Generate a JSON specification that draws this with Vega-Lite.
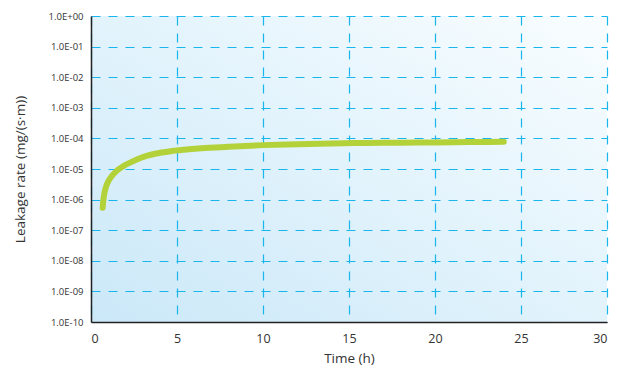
{
  "$schema": "https://vega.github.io/schema/vega-lite/v6.json",
  "width": 516,
  "height": 306,
  "autosize": "none",
  "padding": {"left": 91, "top": 16, "right": 20, "bottom": 47},
  "background": "white",
  "config": {
    "font": "Open Sans",
    "view": {
      "stroke": null,
      "fill": {
        "gradient": "linear",
        "x1": 0, "y1": 1, "x2": 1, "y2": 0,
        "stops": [
          {"offset": 0, "color": "#cbe8f8"},
          {"offset": 0.5, "color": "#e2f3fc"},
          {"offset": 1, "color": "#f9fdff"}
        ]
      }
    },
    "axis": {
      "gridColor": "#19b6ee",
      "gridDash": [9, 8],
      "gridWidth": 1.2,
      "gridOpacity": 1,
      "domainColor": "#222222",
      "domainWidth": 1.5,
      "ticks": false,
      "labelColor": "#333333",
      "titleColor": "#333333",
      "titleFontWeight": "normal",
      "titleFontSize": 13.5,
      "labelFont": "Open Sans",
      "titleFont": "Open Sans"
    }
  },
  "data": {
    "values": [
      {"t": 0.678, "rate": 5.44e-7},
      {"t": 0.717, "rate": 9.48e-7},
      {"t": 0.775, "rate": 1.57e-6},
      {"t": 0.872, "rate": 2.59e-6},
      {"t": 1.008, "rate": 3.98e-6},
      {"t": 1.202, "rate": 5.81e-6},
      {"t": 1.493, "rate": 8.69e-6},
      {"t": 1.88, "rate": 1.24e-5},
      {"t": 2.365, "rate": 1.71e-5},
      {"t": 2.946, "rate": 2.38e-5},
      {"t": 3.721, "rate": 3.14e-5},
      {"t": 4.69, "rate": 3.85e-5},
      {"t": 5.853, "rate": 4.47e-5},
      {"t": 6.628, "rate": 4.83e-5},
      {"t": 8, "rate": 5.37e-5},
      {"t": 10, "rate": 6.03e-5},
      {"t": 12, "rate": 6.46e-5},
      {"t": 14, "rate": 6.84e-5},
      {"t": 16, "rate": 7.08e-5},
      {"t": 18, "rate": 7.24e-5},
      {"t": 20, "rate": 7.41e-5},
      {"t": 22, "rate": 7.59e-5},
      {"t": 24, "rate": 7.76e-5}
    ]
  },
  "mark": {"type": "line", "color": "#b3d23a", "strokeWidth": 6, "strokeCap": "round", "strokeJoin": "round", "interpolate": "monotone"},
  "encoding": {
    "x": {
      "field": "t",
      "type": "quantitative",
      "scale": {"domain": [0, 30], "nice": false},
      "axis": {
        "title": "Time (h)",
        "values": [0, 5, 10, 15, 20, 25, 30],
        "labelFontSize": 12.5,
        "labelPadding": 10,
        "titlePadding": 7
      }
    },
    "y": {
      "field": "rate",
      "type": "quantitative",
      "scale": {"type": "log", "domain": [1e-10, 1], "nice": false},
      "axis": {
        "title": "Leakage rate (mg/(s·m))",
        "values": [1e-10, 1e-9, 1e-8, 1e-7, 1e-6, 1e-5, 1e-4, 1e-3, 1e-2, 1e-1, 1],
        "labelExpr": "datum.value >= 0.5 ? '1.0E+00' : '1.0E-' + (round(-log(datum.value)/LN10) < 10 ? '0' : '') + round(-log(datum.value)/LN10)",
        "labelFontSize": 9.5,
        "labelPadding": 8,
        "titleX": -71,
        "titleY": 153,
        "titleAngle": -90,
        "titleBaseline": "middle",
        "titleAlign": "center"
      }
    }
  }
}
